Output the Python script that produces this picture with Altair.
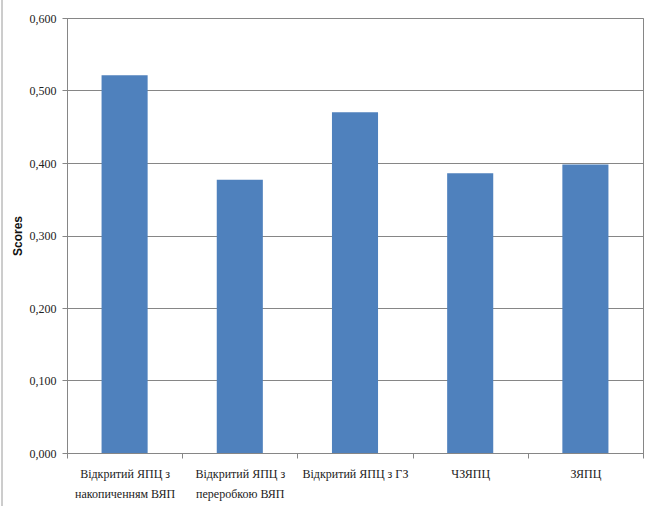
import altair as alt
import pandas as pd

# Scores by mining/processing scheme
categories = [
    "Відкритий ЯПЦ з|накопиченням ВЯП",
    "Відкритий ЯПЦ з|переробкою ВЯП",
    "Відкритий ЯПЦ з ГЗ",
    "ЧЗЯПЦ",
    "ЗЯПЦ",
]
scores = [0.521, 0.377, 0.470, 0.386, 0.398]
y_ticks = [0.0, 0.1, 0.2, 0.3, 0.4, 0.5, 0.6]

df = pd.DataFrame({"category": categories, "score": scores})

GRID = "#868686"
LABEL_FONT = "Liberation Sans Narrow"

bars = alt.Chart(df).mark_bar(
    color="#4F81BD", width=alt.RelativeBandSize(0.4)
).encode(
    x=alt.X(
        "category:N",
        sort=categories,
        scale=alt.Scale(paddingInner=0, paddingOuter=0),
        axis=alt.Axis(
            title=None,
            labelExpr="split(datum.label, '|')",
            labelAngle=0,
            labelFont=LABEL_FONT,
            labelFontSize=12,
            labelColor="#222222",
            labelLineHeight=20,
            labelPadding=10,
            tickBand="extent",
            tickSize=5,
            tickColor=GRID,
            domainColor=GRID,
            grid=False,
        ),
    ),
    y=alt.Y(
        "score:Q",
        scale=alt.Scale(domain=[0, 0.6], nice=False),
        axis=alt.Axis(
            title="Scores",
            titleFont="Liberation Sans",
            titleFontSize=12,
            titleFontWeight="bold",
            titleColor="#111111",
            titlePadding=5,
            values=y_ticks,
            labelExpr="replace(format(datum.value, '.3f'), '.', ',')",
            labelFont=LABEL_FONT,
            labelFontSize=12,
            labelColor="#222222",
            labelPadding=6,
            tickSize=5,
            tickColor=GRID,
            domainColor=GRID,
            gridColor=GRID,
            gridOpacity=1,
        ),
    ),
)

# thin frame line along the left edge of the figure
frame = alt.Chart(pd.DataFrame({"k": [0]})).mark_rule(
    color="#9a9a9a", strokeWidth=1
).encode(
    x=alt.value(-65), y=alt.value(-18), y2=alt.value(488)
)

chart = alt.layer(bars, frame).properties(
    width=576,
    height=435,
    autosize=alt.AutoSizeParams(type="none"),
    padding={"left": 67, "top": 18, "right": 7, "bottom": 53},
    background="white",
).configure_view(stroke=GRID, strokeWidth=1)

chart.save("out.html", embed_options={"renderer": "svg", "actions": False})
